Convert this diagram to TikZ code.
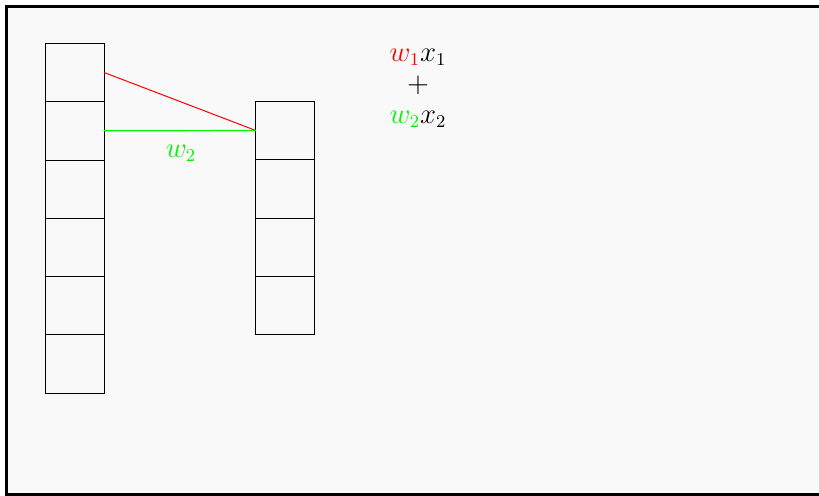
\documentclass[tikz,border=0pt]{standalone}
\definecolor{panel}{RGB}{249,249,249}
\definecolor{wgreen}{RGB}{0,245,0}
\tikzset{
  cell/.style={draw=black, line width=0.45pt, minimum width=29.15pt, minimum height=29.15pt, inner sep=0pt, outer sep=0pt},
  txt/.style={font=\fontsize{13.5}{15.5}\selectfont, inner sep=0pt}
}
\begin{document}
\begin{tikzpicture}[x=0.5pt,y=-0.5pt]
\useasboundingbox (0,0) rectangle (819,495);
\clip (0,0) rectangle (819,495);
\fill[white] (0,0) rectangle (819,495);
\draw[line width=1.5pt, fill=panel] (6.5,6.5) rectangle (840,494);
% left column
\foreach \k in {0,...,5}{
  \node[cell] (L\k) at (75,{72.5+58.3*\k}) {};
}
% right column
\foreach \k in {0,...,3}{
  \node[cell] (R\k) at (285,{130.5+58.3*\k}) {};
}
\draw[red, line width=0.5pt] (L0.east) -- (R0.west);
\draw[wgreen, line width=0.6pt] (L1.east) -- (R0.west);
\node[txt, text=wgreen] (wl) at (181,153) {$w_2$};
\node[txt, align=center] (sum) at (418,88) {$\textcolor{red}{w_1}x_1$\\[0pt]$+$\\$\textcolor{wgreen}{w_2}x_2$};
\end{tikzpicture}
\end{document}
